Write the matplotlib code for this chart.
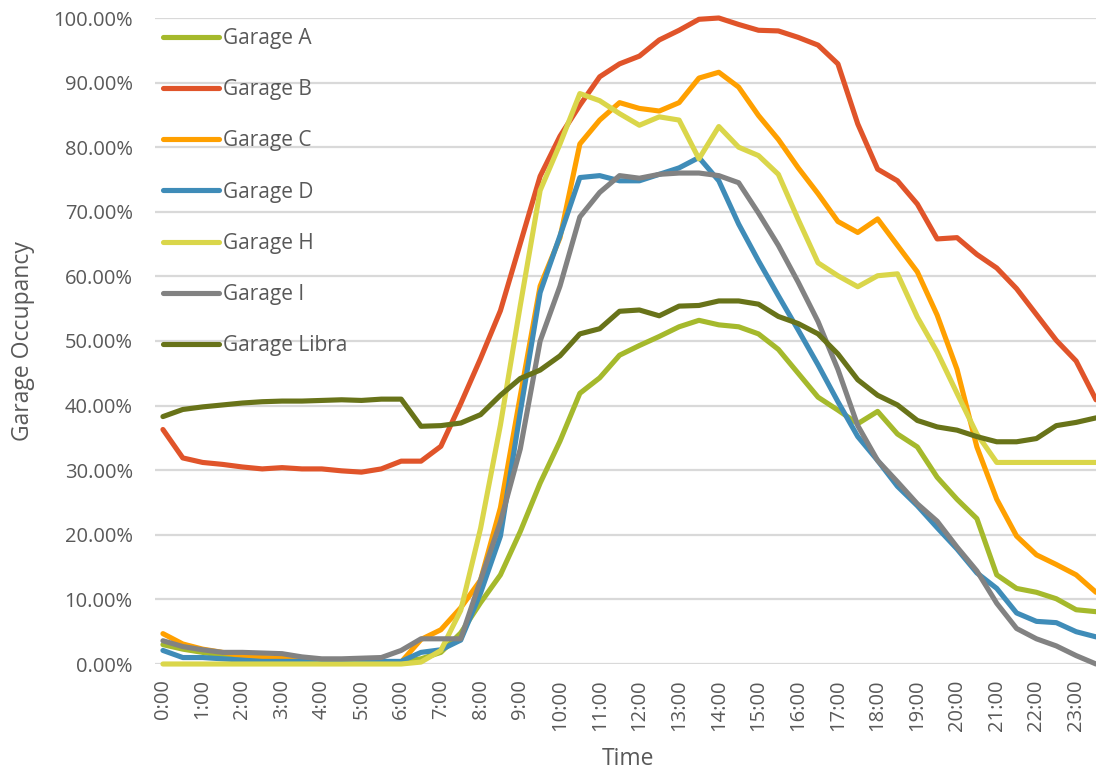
import matplotlib
matplotlib.use('Agg')
import matplotlib.pyplot as plt

plt.rcParams['font.family'] = ['Open Sans', 'DejaVu Sans']

# half-hour slots 0:00 .. 23:30
times = ['%d:%02d' % (h, m) for h in range(24) for m in (0, 30)]
hour_ticks = [f'{h}:00' for h in range(24)]

garage_a = [3.0, 2.3, 1.8, 1.3, 0.8, 0.5, 0.4, 0.3, 0.3, 0.3, 0.3, 0.3,
            0.3, 0.8, 1.8, 4.8, 9.5, 13.8, 20.5, 28.0, 34.5, 41.9, 44.3, 47.8,
            49.3, 50.7, 52.2, 53.2, 52.5, 52.2, 51.1, 48.7, 45.0, 41.3, 39.3, 37.2,
            39.1, 35.6, 33.6, 28.9, 25.5, 22.5, 13.8, 11.7, 11.1, 10.1, 8.4, 8.1]
garage_b = [36.3, 31.9, 31.2, 30.9, 30.5, 30.2, 30.4, 30.2, 30.2, 29.9, 29.7, 30.2,
            31.4, 31.4, 33.7, 40.3, 47.3, 54.7, 65.1, 75.5, 81.7, 86.5, 90.9, 92.9,
            94.1, 96.6, 98.1, 99.8, 100.0, 99.0, 98.1, 98.0, 97.0, 95.8, 92.9, 83.6,
            76.6, 74.8, 71.2, 65.8, 66.0, 63.4, 61.3, 58.1, 54.1, 50.1, 46.9, 40.9]
garage_c = [4.7, 3.1, 2.3, 1.8, 1.3, 1.0, 0.9, 0.6, 0.4, 0.3, 0.3, 0.3,
            0.3, 3.8, 5.3, 8.7, 13.0, 24.2, 41.5, 58.5, 66.0, 80.5, 84.2, 86.9,
            86.0, 85.6, 86.9, 90.7, 91.6, 89.3, 84.9, 81.2, 76.8, 72.8, 68.5, 66.8,
            68.9, 64.8, 60.7, 54.0, 45.6, 33.6, 25.5, 19.8, 16.9, 15.4, 13.8, 11.1]
garage_d = [2.1, 1.0, 1.0, 0.8, 0.6, 0.4, 0.4, 0.4, 0.4, 0.4, 0.4, 0.4,
            0.4, 1.8, 2.2, 3.7, 11.0, 19.8, 39.0, 57.5, 66.3, 75.3, 75.6, 74.8,
            74.8, 75.8, 76.8, 78.4, 74.8, 68.1, 62.4, 57.0, 51.7, 46.3, 40.6, 35.2,
            31.5, 27.5, 24.5, 21.1, 17.8, 14.1, 11.7, 7.9, 6.6, 6.4, 5.0, 4.2]
garage_h = [0.0, 0.0, 0.0, 0.0, 0.0, 0.0, 0.0, 0.0, 0.0, 0.0, 0.0, 0.0,
            0.0, 0.3, 2.1, 8.3, 21.0, 37.0, 55.5, 73.3, 80.5, 88.3, 87.2, 85.2,
            83.4, 84.7, 84.2, 78.2, 83.2, 80.0, 78.7, 75.8, 68.8, 62.1, 60.1, 58.4,
            60.1, 60.4, 53.7, 48.3, 41.9, 35.6, 31.2, 31.2, 31.2, 31.2, 31.2, 31.2]
garage_i = [3.6, 2.7, 2.2, 1.8, 1.8, 1.7, 1.6, 1.1, 0.8, 0.8, 0.9, 1.0,
            2.1, 3.9, 3.9, 3.9, 13.0, 22.0, 33.3, 50.0, 58.5, 69.2, 73.0, 75.6,
            75.2, 75.8, 76.0, 76.0, 75.6, 74.5, 69.8, 64.8, 59.1, 53.0, 45.6, 36.9,
            31.5, 28.2, 24.8, 22.1, 18.1, 14.4, 9.4, 5.5, 3.9, 2.8, 1.3, 0.0]
garage_libra = [38.3, 39.4, 39.8, 40.1, 40.4, 40.6, 40.7, 40.7, 40.8, 40.9, 40.8, 41.0,
                41.0, 36.8, 36.9, 37.3, 38.6, 41.6, 44.2, 45.5, 47.7, 51.1, 51.9, 54.6,
                54.8, 53.9, 55.4, 55.5, 56.2, 56.2, 55.7, 53.8, 52.7, 51.1, 48.0, 44.0,
                41.6, 40.1, 37.7, 36.7, 36.2, 35.2, 34.4, 34.4, 34.9, 36.9, 37.4, 38.1]

series = [
    ('Garage A', garage_a, '#A5B92C'),
    ('Garage B', garage_b, '#E0542A'),
    ('Garage C', garage_c, '#FFA000'),
    ('Garage D', garage_d, '#3F8CB8'),
    ('Garage H', garage_h, '#DAD64A'),
    ('Garage I', garage_i, '#828282'),
    ('Garage Libra', garage_libra, '#687319'),
]

text_col = '#595959'

fig = plt.figure(figsize=(10.96, 7.74), dpi=100)
ax = fig.add_axes([155 / 1096, 110 / 774, 941 / 1096, 646 / 774])

x = list(range(len(times)))
for name, vals, cc in series:
    ax.plot(x, vals, color=cc, lw=3.7, label=name, clip_on=False,
            solid_joinstyle='round', solid_capstyle='round')

ax.set_xlim(-0.4, 47.0)
ax.set_ylim(0, 100)
ax.set_yticks(range(0, 101, 10))
ax.set_yticklabels(['%.2f%%' % v for v in range(0, 101, 10)])
ax.set_xticks(x[::2])
ax.set_xticklabels(hour_ticks, rotation=90, va='top', ha='center')

ax.grid(axis='y', color='#D9D9D9', lw=1.6)
ax.set_axisbelow(True)
for s in ax.spines.values():
    s.set_visible(False)
ax.tick_params(axis='both', length=0, colors=text_col, labelsize=14.5)
ax.tick_params(axis='y', pad=16)
ax.tick_params(axis='x', pad=11)

ax.set_ylabel('Garage Occupancy', fontsize=16.5, color=text_col)
ax.yaxis.set_label_coords(-0.127, 0.5)
ax.set_xlabel('Time', fontsize=16.5, color=text_col)
ax.xaxis.set_label_coords(0.503, -0.128)

leg = ax.legend(loc='upper left', bbox_to_anchor=(163 / 1096, 1 - 28 / 774),
                bbox_transform=fig.transFigure, frameon=False, fontsize=15,
                handlelength=2.7, handletextpad=0.2, labelspacing=1.45,
                borderpad=0, borderaxespad=0)
for t in leg.get_texts():
    t.set_color(text_col)

fig.savefig('out.png', dpi=100)
